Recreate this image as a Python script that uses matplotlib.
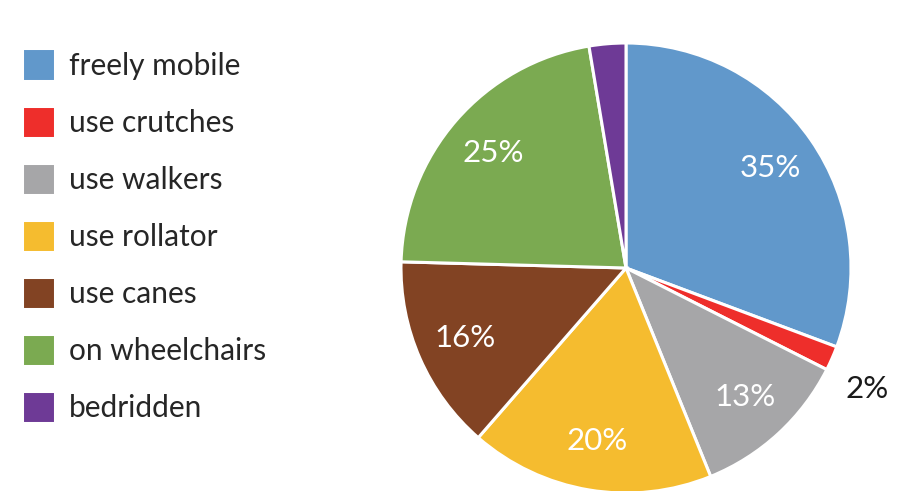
import numpy as np
import matplotlib
matplotlib.use("Agg")
import matplotlib.pyplot as plt

plt.rcParams['font.family'] = ['Lato', 'DejaVu Sans']

categories = ['freely mobile', 'use crutches', 'use walkers', 'use rollator',
              'use canes', 'on wheelchairs', 'bedridden']
values = [35, 2, 13, 20, 16, 25, 3]
shown = [True, True, True, True, True, True, False]
colors = ['#6198CB', '#EE2E2B', '#A6A6A8', '#F5BC2F', '#824323', '#7BAA51', '#6E3A96']

fig = plt.figure(figsize=(9.01, 4.91), dpi=100)
ax = fig.add_axes([401 / 901, -2 / 491, 450 / 901, 450 / 491])

wedges, _ = ax.pie(values, colors=colors, startangle=90, counterclock=False,
                   radius=1.0,
                   wedgeprops=dict(edgecolor='white', linewidth=2.2))
ax.set_xlim(-1, 1)
ax.set_ylim(-1, 1)
ax.set_aspect('equal')
ax.axis('off')

# percentage labels; thin slices get theirs outside the pie
for w, v, show in zip(wedges, values, shown):
    if not show:
        continue
    mid = np.deg2rad((w.theta1 + w.theta2) / 2)
    if v < 5:
        r, col = 1.2, '#1a1a1a'
        mid -= np.deg2rad(3)
    else:
        r, col = 0.78, 'white'
    ax.text(r * np.cos(mid), r * np.sin(mid), f'{v}%', ha='center', va='center',
            fontsize=22.5, color=col, clip_on=False)

fig.legend(wedges, categories, loc='upper left',
           bbox_to_anchor=(22 / 901, 1 - 48.5 / 491), borderaxespad=0, borderpad=0,
           frameon=False, fontsize=21.5, handlelength=1.12, handleheight=1.3,
           handletextpad=0.45, labelspacing=0.82, labelcolor='#262626')

fig.savefig('out.png', dpi=100)
